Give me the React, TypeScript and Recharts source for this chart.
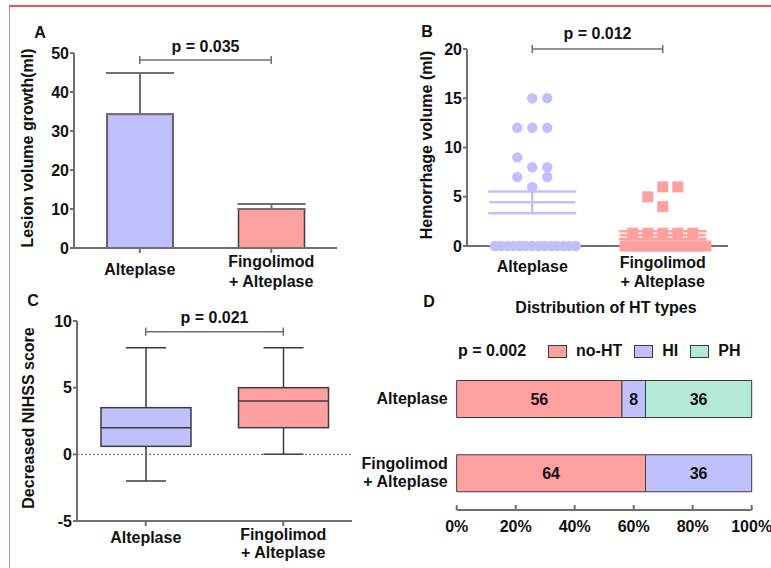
import React from "react"
import {
  BarChart,
  Bar,
  Cell,
  XAxis,
  YAxis,
  ZAxis,
  ErrorBar,
  ReferenceLine,
  ScatterChart,
  Scatter,
  ComposedChart,
  LabelList,
} from "recharts"

const FONT = "'Liberation Sans', Arial, sans-serif"
const INK = "#111"
const AXIS = "#707070"
const EDGE = "#3c3c3c"
const LAVENDER = "#c0c0fe"
const PINK = "#fea0a0"
const MINT = "#b4e9d6"

// shared groups
const groups = ["Alteplase", "Fingolimod + Alteplase"]
const groupColors = [LAVENDER, PINK]

// A: lesion volume growth (mean + SEM)
const lesionMean = [34.3, 10.0]
const lesionSem = [10.6, 1.3]
const lesionTicks = [0, 10, 20, 30, 40, 50]
const lesionP = 48.2

// B: hemorrhage volume per animal
const hemAlteplase = [15, 15, 12, 12, 12, 8, 8, 9, 6, 7, 7, 0, 0, 0, 0, 0, 0, 0, 0, 0, 0, 0, 0, 0, 0]
const hemFingolimod = [6, 6, 5, 4, 1.3, 1.3, 1.3, 1.3, 1.3, 0, 0, 0, 0, 0, 0, 0, 0, 0, 0, 0, 0, 0, 0, 0, 0]
const hemTicks = [0, 5, 10, 15, 20]
const hemP = 20

// C: decreased NIHSS score (box & whiskers)
const nihssMin = [-2, 0]
const nihssQ1 = [0.6, 2]
const nihssMedian = [2, 4]
const nihssQ3 = [3.5, 5]
const nihssMax = [8, 8]
const nihssTicks = [-5, 0, 5, 10]
const nihssP = 9.2

// D: distribution of HT types (%)
const htNoHT = [56, 64]
const htHI = [8, 36]
const htPH = [36, null]
const pctTicks = [0, 20, 40, 60, 80, 100]
const htSeries = [
  { key: "noHT", name: "no-HT", color: PINK, values: htNoHT },
  { key: "hi", name: "HI", color: LAVENDER, values: htHI },
  { key: "ph", name: "PH", color: MINT, values: htPH },
]

const textStyle: React.CSSProperties = { fontFamily: FONT, fontWeight: 700, fontSize: 16 }
const tickStyle = { fill: INK, fontFamily: FONT, fontWeight: 700, fontSize: 16 }

const mean = (a: number[]) => a.reduce((s, v) => s + v, 0) / a.length
const sem = (a: number[]) => {
  const m = mean(a)
  const v = a.reduce((s, x) => s + (x - m) ** 2, 0) / (a.length - 1)
  return Math.sqrt(v) / Math.sqrt(a.length)
}

// column scatter: values closer than BIN share a row and are spread sideways
const JITTER = 0.115
const SPREAD = 0.62
const BIN = 1
function swarm(values: number[], center: number) {
  const order = values.map((_, i) => i).sort((a, b) => values[b] - values[a] || a - b)
  const bins: number[][] = []
  order.forEach((i) => {
    const bin = bins[bins.length - 1]
    if (bin && values[bin[0]] - values[i] <= BIN) bin.push(i)
    else bins.push([i])
  })
  const xs: number[] = new Array(values.length)
  bins.forEach((bin) => {
    bin.sort((a, b) => a - b)
    const n = bin.length
    const step = n > 1 ? Math.min(JITTER, SPREAD / (n - 1)) : 0
    bin.forEach((idx, k) => {
      const slot = k === 0 ? 0 : k % 2 === 1 ? (k + 1) / 2 : -k / 2
      xs[idx] = center + slot * step
    })
  })
  return values.map((v, i) => ({ x: xs[i], y: v }))
}

function makeCategoryTick(singleDy: number, firstDy: number, lineGap: number, nameOf?: (v: any) => string) {
  return (props: any) => {
    const { x, y, payload } = props
    const name = nameOf ? nameOf(payload.value) : String(payload.value)
    const [a, b] = name.split(" + ")
    const lines = b ? [a, "+ " + b] : [a]
    const start = lines.length > 1 ? firstDy : singleDy
    return (
      <text x={x} y={y} textAnchor="middle" fill={INK} style={textStyle}>
        {lines.map((l, i) => (
          <tspan key={i} x={x} dy={i === 0 ? start : lineGap}>
            {l}
          </tspan>
        ))}
      </text>
    )
  }
}

function Abs({ x, y, children, rotate, style }: any) {
  return (
    <div
      style={{
        position: "absolute",
        left: x,
        top: y,
        transform: `translate(-50%, -50%)${rotate ? " rotate(-90deg)" : ""}`,
        whiteSpace: "nowrap",
        lineHeight: 1,
        color: INK,
        ...textStyle,
        ...style,
      }}
    >
      {children}
    </div>
  )
}

function Bracket({ x1, x2, y, half, label, offset }: any) {
  return [
    <ReferenceLine
      key="h"
      segment={[{ x: x1, y }, { x: x2, y }]}
      stroke={AXIS}
      strokeWidth={1.5}
      ifOverflow="visible"
      label={{ value: label, position: "top", offset, fill: INK, style: textStyle }}
    />,
    <ReferenceLine key="l" segment={[{ x: x1, y: y - half }, { x: x1, y: y + half }]} stroke={AXIS} strokeWidth={1.5} ifOverflow="visible" />,
    <ReferenceLine key="r" segment={[{ x: x2, y: y - half }, { x: x2, y: y + half }]} stroke={AXIS} strokeWidth={1.5} ifOverflow="visible" />,
  ]
}

function PanelA() {
  const data = groups.map((g, i) => ({ name: g, mean: lesionMean[i], err: [0, lesionSem[i]] }))
  return (
    <BarChart width={390} height={290} data={data} margin={{ top: 53, right: 53, bottom: 2, left: 0 }}>
      <XAxis
        dataKey="name"
        height={40}
        stroke={AXIS}
        strokeWidth={2}
        tickSize={5}
        tickMargin={0}
        tick={makeCategoryTick(22, 14, 20)}
        interval={0}
      />
      <YAxis width={74} domain={[0, 50]} ticks={lesionTicks} stroke={AXIS} strokeWidth={2} tickSize={4} tickMargin={1} tick={tickStyle} />
      <Bar dataKey="mean" barSize={66} stroke={EDGE} strokeWidth={1.5} isAnimationActive={false}>
        {data.map((d, i) => (
          <Cell key={d.name} fill={groupColors[i]} />
        ))}
        <ErrorBar dataKey="err" direction="y" width={34} stroke={AXIS} strokeWidth={2} isAnimationActive={false} />
      </Bar>
      {Bracket({ x1: groups[0], x2: groups[1], y: lesionP, half: 1.05, label: "p = 0.035", offset: 8 })}
    </BarChart>
  )
}

function PanelB() {
  const ptsA = swarm(hemAlteplase, 0.5)
  const ptsF = swarm(hemFingolimod, 1.5)
  const sumA = [{ x: 0.5, y: mean(hemAlteplase), sem: sem(hemAlteplase) }]
  const sumF = [{ x: 1.5, y: mean(hemFingolimod), sem: sem(hemFingolimod) }]
  const meanShape = (color: string) => (p: any) =>
    <line x1={p.cx - 43} x2={p.cx + 43} y1={p.cy} y2={p.cy} stroke={color} strokeWidth={2.5} />
  return (
    <ScatterChart width={381} height={290} margin={{ top: 49, right: 43, bottom: 4, left: 0 }}>
      <XAxis
        type="number"
        dataKey="x"
        domain={[0, 2]}
        ticks={[0.5, 1.5]}
        height={40}
        stroke={AXIS}
        strokeWidth={2}
        tickSize={5}
        tickMargin={0}
        tick={makeCategoryTick(21, 17, 19, (v) => groups[Math.round(v - 0.5)])}
      />
      <YAxis type="number" dataKey="y" width={77} domain={[0, 20]} ticks={hemTicks} stroke={AXIS} strokeWidth={2} tickSize={4} tickMargin={1} tick={tickStyle} />
      <ZAxis range={[80, 80]} />
      <Scatter data={ptsA} isAnimationActive={false} shape={(p: any) => <circle cx={p.cx} cy={p.cy} r={5.2} fill={LAVENDER} />} />
      <Scatter
        data={ptsF}
        isAnimationActive={false}
        shape={(p: any) => <rect x={p.cx - 5.5} y={p.cy - 5.5} width={11} height={11} fill={PINK} />}
      />
      <Scatter data={sumA} isAnimationActive={false} shape={meanShape(LAVENDER)}>
        <ErrorBar dataKey="sem" direction="y" width={44} stroke={LAVENDER} strokeWidth={2.5} isAnimationActive={false} />
      </Scatter>
      <Scatter data={sumF} isAnimationActive={false} shape={meanShape(PINK)}>
        <ErrorBar dataKey="sem" direction="y" width={44} stroke={PINK} strokeWidth={2.5} isAnimationActive={false} />
      </Scatter>
      {Bracket({ x1: 0.5, x2: 1.5, y: hemP, half: 0.4, label: "p = 0.012", offset: 10 })}
    </ScatterChart>
  )
}

function BoxShape(props: any) {
  const { x, y, width, height, payload, index } = props
  const ppu = height / (payload.q3 - payload.q1)
  const py = (v: number) => y + (payload.q3 - v) * ppu
  const cx = x + width / 2
  const cap = 20
  return (
    <g stroke={EDGE} strokeWidth={1.5}>
      <line x1={cx} x2={cx} y1={py(payload.max)} y2={y} />
      <line x1={cx} x2={cx} y1={y + height} y2={py(payload.min)} />
      <line x1={cx - cap} x2={cx + cap} y1={py(payload.max)} y2={py(payload.max)} />
      <line x1={cx - cap} x2={cx + cap} y1={py(payload.min)} y2={py(payload.min)} />
      <rect x={x} y={y} width={width} height={height} fill={groupColors[index]} />
      <line x1={x} x2={x + width} y1={py(payload.median)} y2={py(payload.median)} />
    </g>
  )
}

function PanelC() {
  const data = groups.map((g, i) => ({
    name: g,
    box: [nihssQ1[i], nihssQ3[i]],
    min: nihssMin[i],
    q1: nihssQ1[i],
    median: nihssMedian[i],
    q3: nihssQ3[i],
    max: nihssMax[i],
  }))
  return (
    <ComposedChart width={390} height={278} data={data} margin={{ top: 31, right: 38, bottom: 8, left: 0 }}>
      <XAxis
        dataKey="name"
        height={39}
        stroke={AXIS}
        strokeWidth={2}
        tickSize={5}
        tickMargin={0}
        tick={makeCategoryTick(17, 14, 18)}
        interval={0}
      />
      <YAxis width={77} domain={[-5, 10]} ticks={nihssTicks} stroke={AXIS} strokeWidth={2} tickSize={4} tickMargin={1} tick={tickStyle} />
      <ReferenceLine y={0} stroke="#555" strokeDasharray="2 2" strokeWidth={1} />
      <Bar dataKey="box" barSize={90} shape={BoxShape} isAnimationActive={false} />
      {Bracket({ x1: groups[0], x2: groups[1], y: nihssP, half: 0.31, label: "p = 0.021", offset: 9 })}
    </ComposedChart>
  )
}

function PctTick(props: any) {
  const { x, y, payload } = props
  return (
    <g>
      <line x1={x} x2={x} y1={y} y2={y - 5} stroke={AXIS} strokeWidth={2} />
      <text x={x} y={y + 22} textAnchor="middle" fill={INK} style={textStyle}>
        {payload.value}%
      </text>
    </g>
  )
}

function HtCategoryTick(props: any) {
  const { x, y, payload } = props
  const [a, b] = String(payload.value).split(" + ")
  const lines = b ? [a, "+ " + b] : [a]
  return (
    <text x={x} y={y} textAnchor="end" fill={INK} style={textStyle}>
      {lines.map((l, i) => (
        <tspan key={i} x={x} dy={i === 0 ? (lines.length > 1 ? -4 : 5) : 18}>
          {l}
        </tspan>
      ))}
    </text>
  )
}

function PanelD() {
  const data = groups.map((g, i) => {
    const row: any = { name: g }
    htSeries.forEach((s) => (row[s.key] = s.values[i]))
    return row
  })
  return (
    <BarChart layout="vertical" width={411} height={278} data={data} margin={{ top: 71.5, right: 19.3, bottom: 28, left: 0 }}>
      <XAxis
        type="number"
        domain={[0, 100]}
        ticks={pctTicks}
        height={30}
        stroke={AXIS}
        strokeWidth={2}
        tickLine={false}
        tickSize={0}
        tickMargin={0}
        tick={PctTick}
      />
      <YAxis type="category" dataKey="name" width={96.7} axisLine={false} tickLine={false} tickSize={0} tickMargin={9} tick={HtCategoryTick} />
      {htSeries.map((s) => (
        <Bar key={s.key} dataKey={s.key} stackId="ht" barSize={37} fill={s.color} stroke={EDGE} strokeWidth={1} isAnimationActive={false}>
          <LabelList
            dataKey={s.key}
            position="center"
            formatter={(v: any) => (v ? v : "")}
            fill={INK}
            style={textStyle}
          />
        </Bar>
      ))}
    </BarChart>
  )
}

function Legend() {
  return (
    <div style={{ position: "absolute", left: 458, top: 342, display: "flex", alignItems: "center", lineHeight: "18px", color: INK, ...textStyle }}>
      <span style={{ marginRight: 22 }}>p = 0.002</span>
      {htSeries.map((s) => (
        <span key={s.key} style={{ display: "flex", alignItems: "center", marginRight: 12 }}>
          <span style={{ width: 17, height: 11, background: s.color, border: `1px solid ${EDGE}`, marginRight: 9 }} />
          {s.name}
        </span>
      ))}
    </div>
  )
}

export default function App() {
  return (
    <div style={{ position: "absolute", left: 0, top: 0, width: 771, height: 568, background: "#fff", overflow: "hidden", fontFamily: FONT }}>
      <div style={{ position: "absolute", left: 9, top: 5, width: 762, height: 2, background: "#dc5c5c" }} />
      <div style={{ position: "absolute", left: 9, top: 6, width: 1, height: 562, background: "#c98585" }} />

      <div style={{ position: "absolute", left: 0, top: 0 }}>
        <PanelA />
      </div>
      <div style={{ position: "absolute", left: 390, top: 0 }}>
        <PanelB />
      </div>
      <div style={{ position: "absolute", left: 0, top: 290 }}>
        <PanelC />
      </div>
      <div style={{ position: "absolute", left: 360, top: 290 }}>
        <PanelD />
      </div>

      <Abs x={40} y={33}>A</Abs>
      <Abs x={427} y={32}>B</Abs>
      <Abs x={33} y={301}>C</Abs>
      <Abs x={429} y={302}>D</Abs>

      <Abs x={28} y={148} rotate>
        Lesion volume growth(ml)
      </Abs>
      <Abs x={427} y={145} rotate>
        Hemorrhage volume (ml)
      </Abs>
      <Abs x={29} y={418} rotate>
        Decreased NIHSS score
      </Abs>

      <Abs x={606} y={308}>Distribution of HT types</Abs>
      <Legend />
    </div>
  )
}
